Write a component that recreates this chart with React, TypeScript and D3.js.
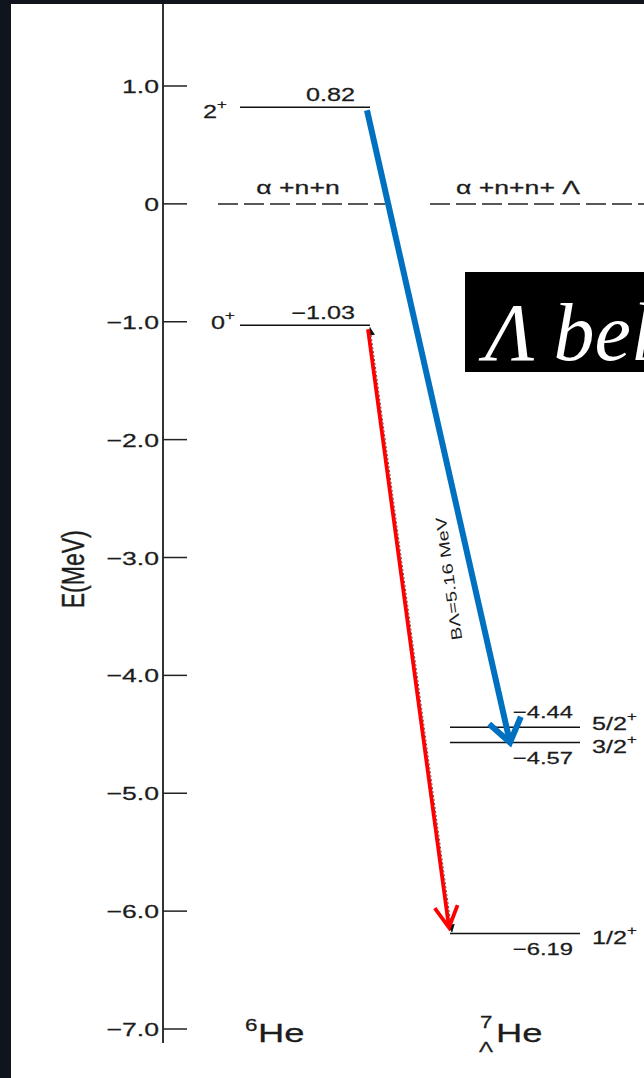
import React from 'react';
import * as d3 from 'd3';

// energy levels (MeV)
const nuclei = ['6He', '7He'];
const levels6He = [
  { E: 0.82, jp: '2', label: '0.82' },
  { E: -1.03, jp: '0', label: '\u22121.03' },
];
const levels7He = [
  { E: -4.44, jp: '5/2', label: '\u22124.44' },
  { E: -4.57, jp: '3/2', label: '\u22124.57' },
  { E: -6.19, jp: '1/2', label: '\u22126.19' },
];
const thresholds = [
  { col: '6He', E: 0, label: '\u03b1 +n+n' },
  { col: '7He', E: 0, label: '\u03b1 +n+n+ \u039b' },
];
const yTicks = [1, 0, -1, -2, -3, -4, -5, -6, -7];

const W = 644;
const H = 1078;
const AXIS_X = 163;
const SX = 1.4; // the scanned figure is stretched sideways
const FONT = 'Liberation Sans, Arial, sans-serif';
const INK = '#1c1c1c';

const y = d3.scaleLinear().domain([1, -7]).range([86, 1029]);
const x = d3.scaleBand().domain(nuclei).range([240, 580]).paddingInner(80 / 210);
const bw = x.bandwidth();
const fmt = (d: number) => (d === 0 ? '0' : d3.format('.1f')(d));

function Txt({ x, y, anchor = 'start', size = 18, children, fill = INK }: any) {
  return (
    <text
      transform={`translate(${x},${y}) scale(${SX},1)`}
      textAnchor={anchor}
      fontSize={size}
      fontFamily={FONT}
      fill={fill}
      stroke={fill}
      strokeWidth={0.25}
    >
      {children}
    </text>
  );
}

function Jp({ x, y, j }: any) {
  return (
    <Txt x={x} y={y} size={18}>
      {j}
      <tspan fontSize={12} dy={-9}>+</tspan>
    </Txt>
  );
}

function arrowHead(x1: number, y1: number, x2: number, y2: number, len: number, spread: number) {
  const a = Math.atan2(y2 - y1, x2 - x1);
  const p1 = [x2 - len * Math.cos(a - spread), y2 - len * Math.sin(a - spread)];
  const p2 = [x2 - len * Math.cos(a + spread), y2 - len * Math.sin(a + spread)];
  return `M${p1[0]},${p1[1]}L${x2},${y2}L${p2[0]},${p2[1]}`;
}

export default function App() {
  const x6 = x('6He')!;
  const x7 = x('7He')!;

  // red: 0+ of 6He -> 1/2+ of 7He (B_Lambda)
  const r1 = [x6 + bw - 2, y(-1.03) + 4];
  const r2 = [x7 - 1, y(-6.19) - 6];
  // blue: 2+ of 6He -> 3/2+ of 7He
  const b1 = [x6 + bw - 3, y(0.82) + 3];
  const b2 = [x7 + 60, y(-4.57)];
  // thin dotted original arrow
  const k1 = [x6 + bw, y(-1.03) + 2];
  const k2 = [x7 + 2, y(-6.19) - 1];

  const bx = 454;
  const by = 578;
  const ang = (Math.atan2(r2[1] - r1[1], r2[0] - r1[0]) * 180) / Math.PI;

  return (
    <svg width={W} height={H} style={{ position: 'absolute', left: 0, top: 0 }}>
      <rect x={0} y={0} width={W} height={H} fill="#0f141d" />
      <rect x={11} y={4} width={W - 11} height={H - 4} fill="#ffffff" />

      {/* axis */}
      <line x1={AXIS_X} x2={AXIS_X} y1={4} y2={1043} stroke="#333" strokeWidth={2} />
      {yTicks.map((t) => (
        <g key={t}>
          <line x1={AXIS_X} x2={AXIS_X + 24} y1={y(t)} y2={y(t)} stroke="#222" strokeWidth={1.5} />
          <Txt x={AXIS_X - 4} y={y(t) + 7} anchor="end" size={19}>
            {fmt(t)}
          </Txt>
        </g>
      ))}
      <text
        transform={`translate(84,${y(-3.1)}) rotate(-90) scale(1,1.4)`}
        textAnchor="middle"
        fontSize={23}
        fontFamily={FONT}
        fill={INK}
        stroke={INK}
        strokeWidth={0.3}
      >
        E(MeV)
      </text>

      {/* thresholds */}
      {thresholds.map((t) => {
        const x0 = x(t.col)!;
        const xa = t.col === '6He' ? x0 - 22 : x0 - 20;
        const xb = t.col === '6He' ? x0 + bw + 15 : W;
        return (
          <g key={t.col}>
            <line x1={xa} x2={xb} y1={y(t.E)} y2={y(t.E)} stroke="#222" strokeWidth={1.5} strokeDasharray="20,6" />
            <Txt
              x={t.col === '6He' ? x0 + 58 : x0 + 6}
              y={y(t.E) - 10}
              anchor={t.col === '6He' ? 'middle' : 'start'}
              size={19}
            >
              {t.label}
            </Txt>
          </g>
        );
      })}

      {/* 6He levels */}
      {levels6He.map((l) => (
        <g key={l.label}>
          <line x1={x6} x2={x6 + bw} y1={y(l.E)} y2={y(l.E)} stroke="#111" strokeWidth={1.6} />
          <Txt x={x6 + 115} y={y(l.E) - 6} anchor="end" size={18}>
            {l.label}
          </Txt>
          <Jp x={l.E > 0 ? x6 - 37 : x6 - 29} y={y(l.E) + (l.E > 0 ? 11 : 4)} j={l.jp} />
        </g>
      ))}

      {/* 7He levels */}
      {levels7He.map((l, i) => (
        <g key={l.label}>
          <line x1={x7} x2={x7 + bw} y1={y(l.E)} y2={y(l.E)} stroke="#111" strokeWidth={1.6} />
          <Txt x={x7 + 123} y={i === 0 ? y(l.E) - 9 : y(l.E) + 21} anchor="end" size={17}>
            {l.label}
          </Txt>
          <Jp x={x7 + 142} y={i === 0 ? y(l.E) + 3 : y(l.E) + 10} j={l.jp} />
        </g>
      ))}

      {/* original thin arrow */}
      <line x1={k1[0]} y1={k1[1]} x2={k2[0]} y2={k2[1]} stroke="#555" strokeWidth={1} strokeDasharray="2,2" />
      <path d={arrowHead(k2[0], k2[1], k1[0], k1[1], 9, 0.45) + 'Z'} fill="#111" />
      <path d={arrowHead(k1[0], k1[1], k2[0], k2[1], 9, 0.45) + 'Z'} fill="#111" />

      {/* red arrow */}
      <line x1={r1[0]} y1={r1[1]} x2={r2[0]} y2={r2[1]} stroke="#ff0000" strokeWidth={3.8} />
      <path d={arrowHead(r1[0], r1[1], r2[0], r2[1], 24, 0.5)} fill="none" stroke="#ff0000" strokeWidth={3.8} />
      <text
        transform={`translate(${bx},${by}) rotate(${ang - 180})`}
        textAnchor="middle"
        fontSize={15}
        fontFamily={FONT}
        fill={INK}
        textLength={124}
        lengthAdjust="spacingAndGlyphs"
      >
        {'B\u039b=5.16 MeV'}
      </text>

      {/* blue arrow */}
      <line x1={b1[0]} y1={b1[1]} x2={b2[0]} y2={b2[1]} stroke="#0070c0" strokeWidth={6} />
      <path
        d={arrowHead(b1[0], b1[1], b2[0], b2[1], 28, 0.62)}
        fill="none"
        stroke="#0070c0"
        strokeWidth={6}
        strokeLinejoin="miter"
      />

      {/* nucleus labels */}
      <Txt x={x6 + 5} y={1031} size={16}>6</Txt>
      <Txt x={x6 + 18} y={1042} size={26}>He</Txt>
      <Txt x={x7 + 30} y={1028} size={16}>7</Txt>
      <Txt x={x7 + 29} y={1052} size={15}>{'\u039b'}</Txt>
      <Txt x={x7 + 46} y={1042} size={26}>He</Txt>

      {/* overlay box */}
      <rect x={465} y={272} width={W - 465} height={100} fill="#000" />
      <text x={485} y={360} fontSize={82} fontStyle="italic" fontFamily="Liberation Serif, Times New Roman, serif" fill="#fff">
        {'\u039b bel'}
      </text>
    </svg>
  );
}
